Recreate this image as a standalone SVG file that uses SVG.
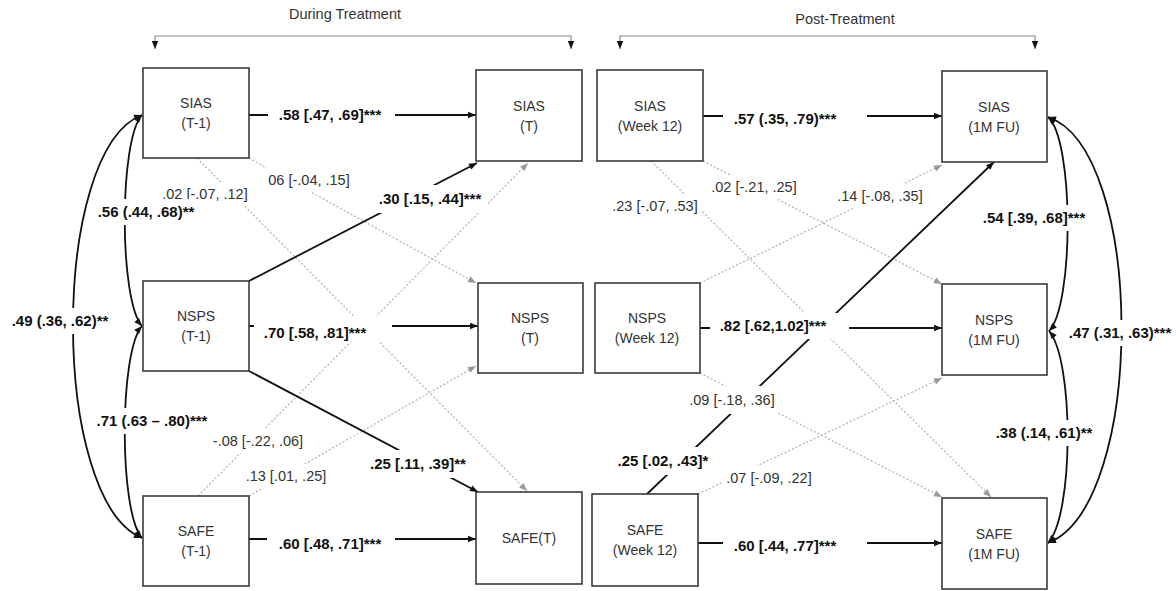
<svg xmlns="http://www.w3.org/2000/svg" width="1176" height="591" viewBox="0 0 1176 591">
<style>
.box{fill:#fff;stroke:#3a3a3a;stroke-width:1.6}
.nt{font-family:"Liberation Sans",Arial,sans-serif;font-size:14px;fill:#333;text-anchor:middle}
.hd{font-family:"Liberation Sans",Arial,sans-serif;font-size:14.5px;fill:#333;text-anchor:middle}
.bl{font-family:"Liberation Sans",Arial,sans-serif;font-size:15px;font-weight:bold;fill:#111;text-anchor:middle}
.rl{font-family:"Liberation Sans",Arial,sans-serif;font-size:14.5px;fill:#333;text-anchor:middle}
.bg{fill:#fff}
.solid{fill:none;stroke:#111;stroke-width:1.8}
.dot{fill:none;stroke:#aaa;stroke-width:1.1;stroke-dasharray:2 2}
.brk{fill:none;stroke:#888;stroke-width:1.2}
</style>
<defs>
<marker id="ab" markerUnits="userSpaceOnUse" markerWidth="10" markerHeight="8" refX="9" refY="4" orient="auto-start-reverse"><path d="M1,0.8 L9,4 L1,7.2 z" fill="#111"/></marker>
<marker id="ag" markerUnits="userSpaceOnUse" markerWidth="10" markerHeight="8" refX="9" refY="4" orient="auto"><path d="M1,0.8 L9,4 L1,7.2 z" fill="#999"/></marker>
</defs>

<g id="headers">
<text class="hd" x="345" y="19">During Treatment</text>
<path class="brk" d="M155,49 L155,36 L571,36 L571,49" marker-start="url(#ab)" marker-end="url(#ab)"/>
<text class="hd" x="845" y="24">Post-Treatment</text>
<path class="brk" d="M620,49 L620,36 L1035,36 L1035,49" marker-start="url(#ab)" marker-end="url(#ab)"/>
</g>

<g id="connectors">
<!-- dotted paths -->
<line class="dot" x1="197" y1="158" x2="527" y2="491" marker-end="url(#ag)"/>
<line class="dot" x1="249" y1="158" x2="476" y2="283" marker-end="url(#ag)"/>
<line class="dot" x1="198" y1="496" x2="528" y2="163" marker-end="url(#ag)"/>
<line class="dot" x1="249" y1="496" x2="476" y2="366" marker-end="url(#ag)"/>
<line class="dot" x1="651" y1="161" x2="991" y2="497" marker-end="url(#ag)"/>
<line class="dot" x1="703" y1="161" x2="942" y2="284" marker-end="url(#ag)"/>
<line class="dot" x1="700" y1="283" x2="942" y2="165" marker-end="url(#ag)"/>
<line class="dot" x1="700" y1="373" x2="942" y2="497" marker-end="url(#ag)"/>
<line class="dot" x1="698" y1="494" x2="942" y2="378" marker-end="url(#ag)"/>
<!-- solid paths -->
<line class="solid" x1="249" y1="115" x2="476" y2="115" marker-end="url(#ab)"/>
<line class="solid" x1="249" y1="326" x2="478" y2="326" marker-end="url(#ab)"/>
<line class="solid" x1="249" y1="539" x2="476" y2="539" marker-end="url(#ab)"/>
<line class="solid" x1="249" y1="281" x2="477" y2="163" marker-end="url(#ab)"/>
<line class="solid" x1="249" y1="371" x2="478" y2="492" marker-end="url(#ab)"/>
<line class="solid" x1="703" y1="116" x2="942" y2="116" marker-end="url(#ab)"/>
<line class="solid" x1="700" y1="328" x2="942" y2="328" marker-end="url(#ab)"/>
<line class="solid" x1="698" y1="543" x2="942" y2="543" marker-end="url(#ab)"/>
<line class="solid" x1="647" y1="494" x2="994" y2="162" marker-end="url(#ab)"/>
<!-- correlations -->
<path class="solid" d="M142,115 C119,140 119,300 142,326" marker-start="url(#ab)" marker-end="url(#ab)"/>
<path class="solid" d="M142,326 C119,352 119,512 142,538" marker-start="url(#ab)" marker-end="url(#ab)"/>
<path class="solid" d="M142,115 C50,150 50,500 142,538" marker-start="url(#ab)" marker-end="url(#ab)"/>
<path class="solid" d="M1048,117 C1074,140 1074,305 1049,331" marker-start="url(#ab)" marker-end="url(#ab)"/>
<path class="solid" d="M1049,331 C1074,360 1074,515 1048,543" marker-start="url(#ab)" marker-end="url(#ab)"/>
<path class="solid" d="M1048,117 C1146,150 1146,505 1048,543" marker-start="url(#ab)" marker-end="url(#ab)"/>
</g>

<g id="labels">
<rect class="bg" x="268" y="102" width="127" height="26"/><text class="bl" x="330" y="120">.58 [.47, .69]***</text>
<rect class="bg" x="254" y="316" width="138" height="26"/><text class="bl" x="315" y="338">.70 [.58, .81]***</text>
<rect class="bg" x="267" y="528" width="128" height="28"/><text class="bl" x="330" y="549">.60 [.48, .71]***</text>
<rect class="bg" x="372" y="185" width="116" height="28"/><text class="bl" x="430" y="204">.30 [.15, .44]***</text>
<rect class="bg" x="366" y="450" width="106" height="28"/><text class="bl" x="418" y="469">.25 [.11, .39]**</text>
<rect class="bg" x="159" y="182" width="92" height="24"/><text class="rl" x="205" y="199">.02 [-.07, .12]</text>
<rect class="bg" x="264" y="168" width="90" height="24"/><text class="rl" x="309" y="185">06 [-.04, .15]</text>
<rect class="bg" x="208" y="429" width="100" height="24"/><text class="rl" x="258" y="446">-.08 [-.22, .06]</text>
<rect class="bg" x="242" y="464" width="89" height="24"/><text class="rl" x="286" y="481">.13 [.01, .25]</text>
<rect class="bg" x="94" y="199" width="104" height="26"/><text class="bl" x="146" y="217">.56 (.44, .68)**</text>
<rect class="bg" x="93" y="408" width="119" height="26"/><text class="bl" x="152" y="426">.71 (.63 – .80)***</text>
<rect class="bg" x="8" y="308" width="104" height="26"/><text class="bl" x="60" y="326">.49 (.36, .62)**</text>

<rect class="bg" x="723" y="104" width="144" height="28"/><text class="bl" x="785" y="124">.57 (.35, .79)***</text>
<rect class="bg" x="710" y="313" width="139" height="26"/><text class="bl" x="773" y="331">.82 [.62,1.02]***</text>
<rect class="bg" x="723" y="532" width="144" height="28"/><text class="bl" x="785" y="551">.60 [.44, .77]***</text>
<rect class="bg" x="614" y="447" width="98" height="28"/><text class="bl" x="663" y="466">.25 [.02, .43]*</text>
<rect class="bg" x="609" y="194" width="92" height="24"/><text class="rl" x="655" y="211">.23 [-.07, .53]</text>
<rect class="bg" x="708" y="175" width="92" height="24"/><text class="rl" x="754" y="192">.02 [-.21, .25]</text>
<rect class="bg" x="834" y="184" width="92" height="24"/><text class="rl" x="880" y="201">.14 [-.08, .35]</text>
<rect class="bg" x="686" y="386" width="92" height="28"/><text class="rl" x="732" y="405">.09 [-.18, .36]</text>
<rect class="bg" x="723" y="466" width="92" height="24"/><text class="rl" x="769" y="483">.07 [-.09, .22]</text>
<rect class="bg" x="978" y="205" width="112" height="26"/><text class="bl" x="1034" y="223">.54 [.39, .68]***</text>
<rect class="bg" x="992" y="420" width="104" height="26"/><text class="bl" x="1044" y="438">.38 (.14, .61)**</text>
<rect class="bg" x="1065" y="320" width="111" height="26"/><text class="bl" x="1120" y="338">.47 (.31, .63)***</text>
</g>

<g id="sias_t1"><rect class="box" x="143" y="68" width="106" height="90"/><text class="nt" x="196" y="108">SIAS</text><text class="nt" x="196" y="128">(T-1)</text></g>
<g id="nsps_t1"><rect class="box" x="143" y="281" width="106" height="90"/><text class="nt" x="196" y="321">NSPS</text><text class="nt" x="196" y="341">(T-1)</text></g>
<g id="safe_t1"><rect class="box" x="143" y="496" width="106" height="90"/><text class="nt" x="196" y="536">SAFE</text><text class="nt" x="196" y="556">(T-1)</text></g>
<g id="sias_t"><rect class="box" x="476" y="70" width="106" height="91"/><text class="nt" x="529" y="111">SIAS</text><text class="nt" x="529" y="131">(T)</text></g>
<g id="nsps_t"><rect class="box" x="478" y="283" width="105" height="90"/><text class="nt" x="530" y="323">NSPS</text><text class="nt" x="530" y="343">(T)</text></g>
<g id="safe_t"><rect class="box" x="476" y="492" width="106" height="92"/><text class="nt" x="529" y="543">SAFE(T)</text></g>
<g id="sias_w12"><rect class="box" x="597" y="70" width="106" height="91"/><text class="nt" x="650" y="111">SIAS</text><text class="nt" x="650" y="131">(Week 12)</text></g>
<g id="nsps_w12"><rect class="box" x="595" y="283" width="105" height="90"/><text class="nt" x="647" y="323">NSPS</text><text class="nt" x="647" y="343">(Week 12)</text></g>
<g id="safe_w12"><rect class="box" x="592" y="494" width="106" height="92"/><text class="nt" x="645" y="535">SAFE</text><text class="nt" x="645" y="555">(Week 12)</text></g>
<g id="sias_1m"><rect class="box" x="942" y="71" width="105" height="91"/><text class="nt" x="994" y="112">SIAS</text><text class="nt" x="994" y="132">(1M FU)</text></g>
<g id="nsps_1m"><rect class="box" x="942" y="284" width="105" height="91"/><text class="nt" x="994" y="325">NSPS</text><text class="nt" x="994" y="345">(1M FU)</text></g>
<g id="safe_1m"><rect class="box" x="942" y="498" width="105" height="91"/><text class="nt" x="994" y="539">SAFE</text><text class="nt" x="994" y="559">(1M FU)</text></g>
</svg>
